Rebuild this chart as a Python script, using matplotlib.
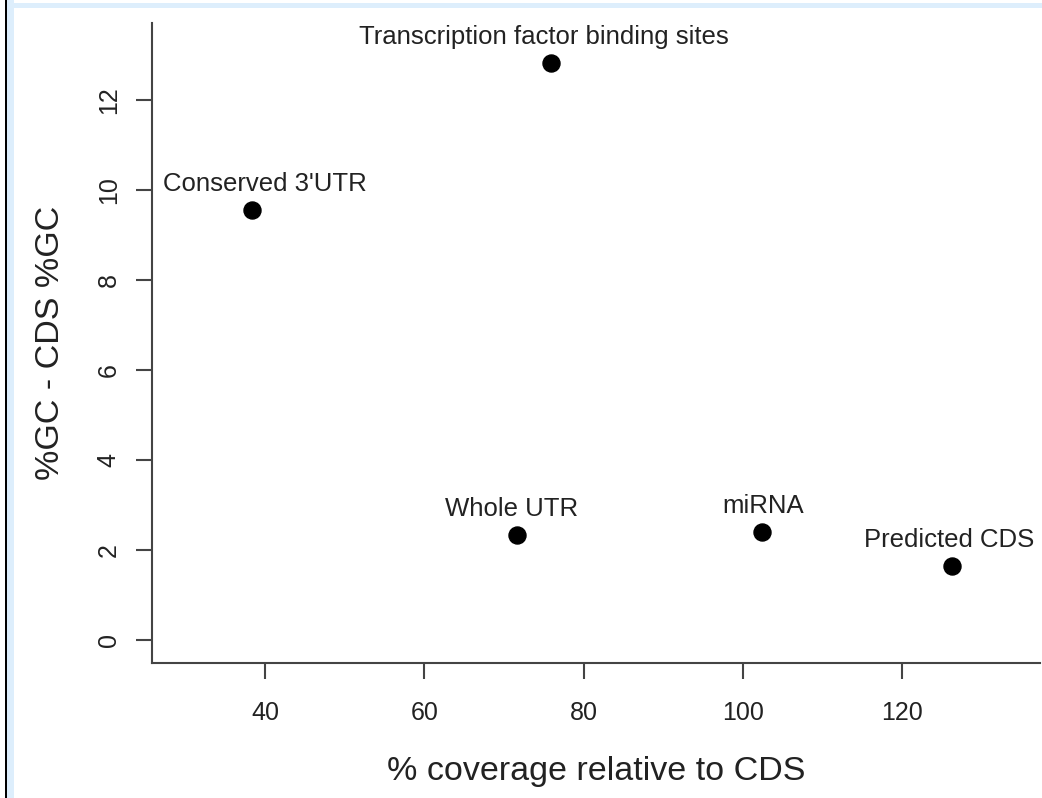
"""GC content difference vs coverage scatter, R base-graphics look."""

import matplotlib
matplotlib.use("Agg")
import matplotlib.pyplot as plt
from matplotlib.patches import Rectangle

plt.rcParams.update({"font.family": ["Liberation Sans", "DejaVu Sans"]})

labels = ["Transcription factor binding sites", "Conserved 3'UTR", "Whole UTR",
          "miRNA", "Predicted CDS"]
coverage = [75.9, 38.4, 71.6, 102.4, 126.2]
gc_diff = [12.82, 9.56, 2.33, 2.40, 1.64]
# horizontal nudge of each label relative to its point (points)
label_dx = [-5, 9, -3.5, 0.5, -2]

xticks = [40, 60, 80, 100, 120]
yticks = [0, 2, 4, 6, 8, 10, 12]

W, H = 1042, 798
fig = plt.figure(figsize=(W / 100, H / 100), dpi=100)

# page decoration: black rule and pale blue frame at left/top
fig.patches.append(Rectangle((5 / W, 0), 2 / W, 1, transform=fig.transFigure,
                             facecolor="black", edgecolor="none"))
fig.patches.append(Rectangle((7 / W, 0), 7 / W, 1, transform=fig.transFigure,
                             facecolor="#ddeefc", edgecolor="none"))
fig.patches.append(Rectangle((7 / W, 1 - 8 / H), 1, 5 / H, transform=fig.transFigure,
                             facecolor="#ddeefc", edgecolor="none"))

ax = fig.add_axes([152 / W, 135 / H, (1040 - 152) / W, (663 - 23) / H])
ax.scatter(coverage, gc_diff, s=150, color="black", zorder=3)
for x, y, t, dx in zip(coverage, gc_diff, labels, label_dx):
    ax.annotate(t, (x, y), xytext=(dx, 10), textcoords="offset points",
                ha="center", va="bottom", fontsize=18.5, color="#222222")

ax.set_xlim(25.8, 137.3)
ax.set_ylim(-0.51, 13.71)
ax.set_xticks(xticks)
ax.set_yticks(yticks)
ax.tick_params(direction="out", length=11.5, width=1.5, color="#444444",
               labelsize=18, labelcolor="#222222", pad=11)
ax.tick_params(axis="x", pad=16)
for lab in ax.get_yticklabels():
    lab.set_rotation(90)
    lab.set_va("center")
for side in ("top", "right"):
    ax.spines[side].set_visible(False)
for side in ("left", "bottom"):
    ax.spines[side].set_linewidth(1.5)
    ax.spines[side].set_color("#444444")

ax.set_xlabel("% coverage relative to CDS", fontsize=24.5, color="#222222", labelpad=22)
ax.set_ylabel("%GC - CDS %GC", fontsize=24.5, color="#222222", labelpad=22)

fig.savefig("out.png", dpi=100)
